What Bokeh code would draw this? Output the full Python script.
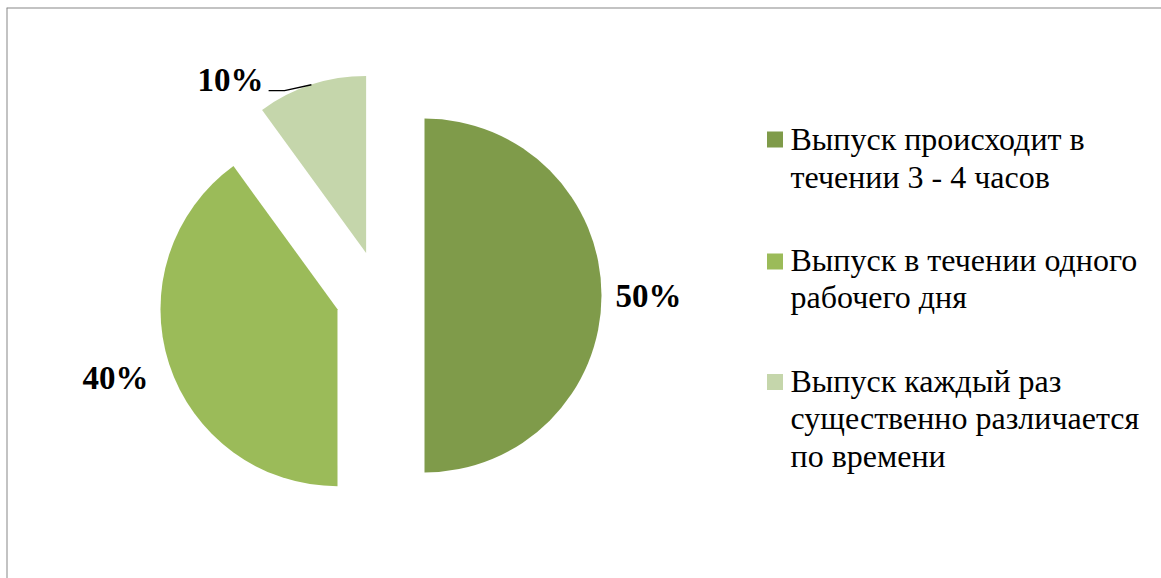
import math
from bokeh.plotting import figure
from bokeh.models import Range1d, Span, ColumnDataSource
from bokeh.core.properties import value
from bokeh.embed import file_html
from bokeh.resources import INLINE

# ---- data ----
categories = [
    "Выпуск  происходит в\nтечении 3 - 4 часов",
    "Выпуск в течении одного\nрабочего дня",
    "Выпуск каждый раз\nсущественно различается\nпо времени",
]
shares = [50, 40, 10]
pct_labels = ["50%", "40%", "10%"]
colors = ["#7F9B4A", "#9BBB59", "#C5D6AB"]

# ---- layout / style params ----
W, H = 1161, 578
FL, FT = 6, 7             # frame left / top offset (px)
SCALE = 177.0             # px per pie radius
CX, CY = 379.4, 295.0     # pie centre in px
EXPLODE = 0.252
label_r = [1.265, 1.312, 1.244]
label_tweak = [0.0, -0.9, 20.0]

x0 = (FL - CX) / SCALE
x1 = x0 + (W - FL) / SCALE
y1 = (CY - FT) / SCALE
y0 = y1 - (H - FT) / SCALE

p = figure(width=W, height=H, output_backend="svg", toolbar_location=None,
           x_range=Range1d(x0, x1), y_range=Range1d(y0, y1),
           x_axis_location=None, y_axis_location=None,
           min_border_left=FL, min_border_top=FT, min_border_right=0, min_border_bottom=0)
p.grid.visible = False
p.outline_line_color = None
p.background_fill_color = "white"
p.border_fill_color = "white"

# wedges
total = float(sum(shares))
cum = 0.0
xs, ys, sa, ea, lx, ly = [], [], [], [], [], []
mids = []
for i, v in enumerate(shares):
    start = math.pi / 2 - 2 * math.pi * cum / total
    cum += v
    end = math.pi / 2 - 2 * math.pi * cum / total
    mid = (start + end) / 2
    cx = EXPLODE * math.cos(mid)
    cy = EXPLODE * math.sin(mid)
    xs.append(cx); ys.append(cy); sa.append(start); ea.append(end); mids.append(mid)
    a = mid + math.radians(label_tweak[i])
    lx.append(cx + label_r[i] * math.cos(a))
    ly.append(cy + label_r[i] * math.sin(a))

src = ColumnDataSource(dict(x=xs, y=ys, start=sa, end=ea, color=colors))
p.wedge(x="x", y="y", radius=1.0, start_angle="start", end_angle="end",
        direction="clock", fill_color="color", line_color=None, source=src)

# data labels
p.text(x=lx, y=ly, text=pct_labels, text_font=value("Liberation Serif"),
       text_font_style="bold", text_font_size="33px",
       text_align="center", text_baseline="middle", text_color="black")

# leader line for the small slice
i = 2
ax = xs[i] + math.cos(mids[i]); ay = ys[i] + math.sin(mids[i])
ex = lx[i] + 0.215; ey = ly[i] - 0.062
p.line(x=[ax, ex + 0.09, ex], y=[ay, ey, ey], line_color="black", line_width=1.3)

# legend (manual)
LEG_SQ_X = (774.5 - CX) / SCALE
LEG_TX = (790 - CX) / SCALE
leg_sq_y = [(CY - yy) / SCALE for yy in (139, 261, 381.5)]
leg_tx_y = [(CY - yy) / SCALE for yy in (120.5, 241, 362)]
p.scatter(x=[LEG_SQ_X] * 3, y=leg_sq_y, marker="square", size=16,
          fill_color=colors, line_color=None)
p.text(x=[LEG_TX] * 3, y=leg_tx_y, text=categories, text_font=value("Liberation Serif"),
       text_font_size="32px", text_align="left", text_baseline="top",
       text_line_height=1.045, text_color="black")

# chart-area border (only top/left visible in window)
p.add_layout(Span(location=x0, dimension="height", line_color="#878787", line_width=2))
p.add_layout(Span(location=y1, dimension="width", line_color="#878787", line_width=2))

open("out.html", "w").write(file_html(p, INLINE))
